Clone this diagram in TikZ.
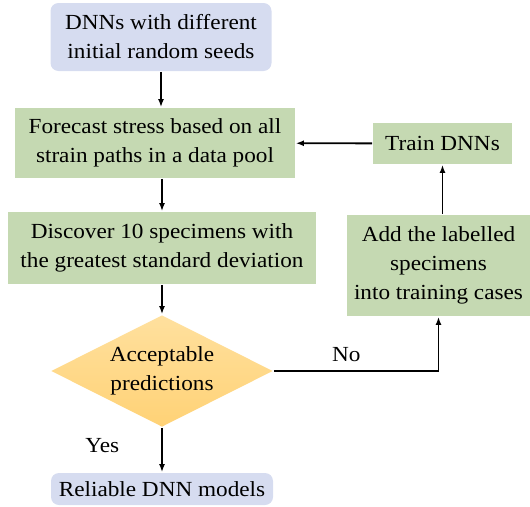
\documentclass[tikz,border=0pt]{standalone}
\usepackage{fontspec}
\setmainfont[FakeStretch=1.08]{Liberation Serif}
\usetikzlibrary{shapes.geometric,arrows.meta}

\definecolor{seedblue}{RGB}{214,220,240}
\definecolor{stepgreen}{RGB}{197,217,178}
\definecolor{checktop}{RGB}{255,224,158}
\definecolor{checkbottom}{RGB}{255,210,118}

\begin{document}
\begin{tikzpicture}
                [
                    x=1pt, y=1pt,
                    ->,
                    >={Latex[length=8pt,width=6pt]},
                    line width=1.8pt,
                    node distance=106pt,
                    font=\fontsize{21.5}{29}\selectfont,
                    every node/.style={inner sep=0pt, align=center},
                    start box/.style={fill=seedblue, rounded corners=8pt, minimum width=221pt, minimum height=68pt},
                    end box/.style={start box, minimum width=222pt, minimum height=32pt},
                    step box/.style={fill=stepgreen, minimum width=280pt, minimum height=70pt},
                    step box wide/.style={step box, minimum width=308pt, minimum height=72pt},
                    train box/.style={step box, minimum width=139pt, minimum height=41pt},
                    add box/.style={step box, minimum width=183pt, minimum height=101pt},
                    decision/.style={shape=diamond, aspect=2, minimum width=222pt, minimum height=112pt,
                                     top color=checktop, bottom color=checkbottom}
                ]
                \useasboundingbox (0,0) rectangle (530,-506);

                \node (seeds) [start box] at (161,-37)
                      {DNNs with different\\initial random seeds};
                \node (forecast)
                      [step box, below of=seeds, xshift=-6pt]
                      {Forecast stress based on all\\strain paths in a data pool};
                \node (discover)
                      [step box wide, below of=forecast, node distance=105pt, xshift=7pt]
                      {Discover 10 specimens with\\the greatest standard deviation};
                \node (check)
                      [decision, below of=discover, node distance=123pt]
                      {Acceptable\\predictions};
                \node (reliable)
                      [end box, below of=check, node distance=118pt]
                      {Reliable DNN models};

                \node (train)
                      [train box, right of=forecast, node distance=287.5pt, yshift=-0.5pt]
                      {Train DNNs};
                \node (add)
                      [add box, below of=train, node distance=122pt, xshift=-4pt]
                      {Add the labelled\\specimens\\into training cases};

                \path
                (seeds) edge (seeds |- forecast.north)
                (discover |- forecast.south) edge (discover)
                (discover) edge (check)
                (check) edge node [left=42pt, pos=0.4] {Yes} (reliable)
                (add.north -| train) edge (train)
                (train) edge (forecast)
                ;
                \draw (check) -| node [above=8pt, pos=0.22] {No} (add.south);

            \end{tikzpicture}
\end{document}
